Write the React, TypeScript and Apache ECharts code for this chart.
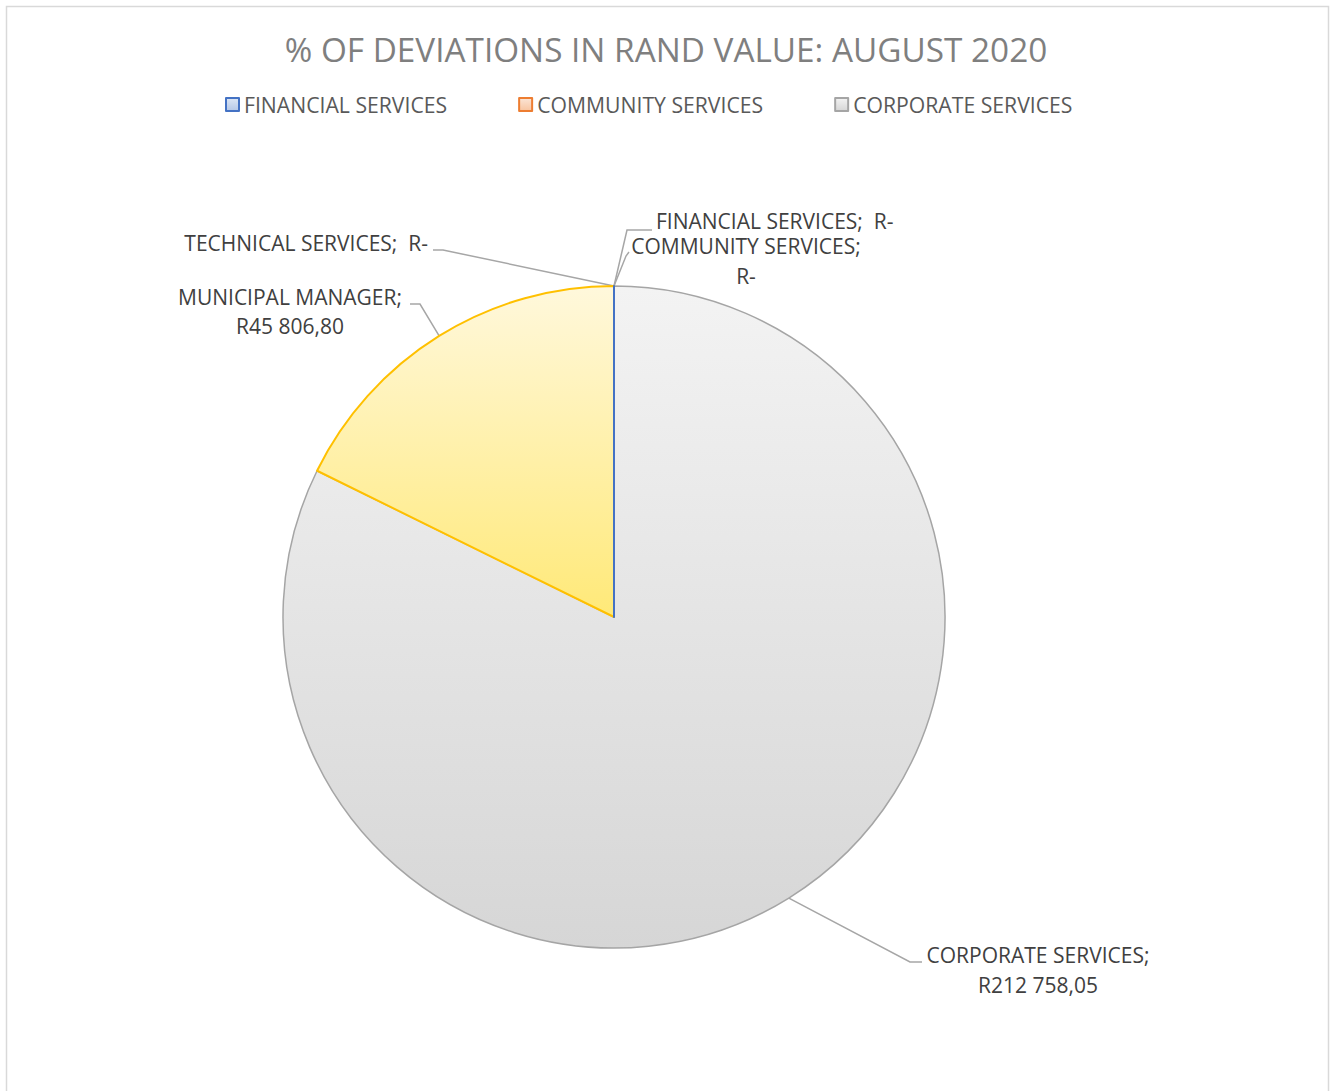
import React, { useEffect, useRef } from "react";
import * as echarts from "echarts";

const titleText = "% OF DEVIATIONS IN RAND VALUE: AUGUST 2020";
const categories = [
  "FINANCIAL SERVICES",
  "COMMUNITY SERVICES",
  "CORPORATE SERVICES",
  "MUNICIPAL MANAGER",
  "TECHNICAL SERVICES",
];
const values = [0, 0, 212758.05, 45806.8, 0];
const legendItems = ["FINANCIAL SERVICES", "COMMUNITY SERVICES", "CORPORATE SERVICES"];

const FONT = "'Open Sans', sans-serif";

function formatRand(v: number): string {
  if (!v) return "R-";
  const [intPart, dec] = v.toFixed(2).split(".");
  const withSpaces = intPart.replace(/\B(?=(\d{3})+(?!\d))/g, " ");
  return "R" + withSpaces + "," + dec;
}

const singleLine = new Set(["FINANCIAL SERVICES", "TECHNICAL SERVICES"]);

const itemStyles: Record<string, any> = {
  "FINANCIAL SERVICES": {
    color: new echarts.graphic.LinearGradient(0, 0, 0, 1, [
      { offset: 0, color: "#dce6f5" },
      { offset: 1, color: "#b4c7e7" },
    ]),
    borderColor: "#4472c4",
    borderWidth: 2,
  },
  "COMMUNITY SERVICES": {
    color: new echarts.graphic.LinearGradient(0, 0, 0, 1, [
      { offset: 0, color: "#fbe5d6" },
      { offset: 1, color: "#f8c4a0" },
    ]),
    borderColor: "#ed7d31",
    borderWidth: 2,
  },
  "CORPORATE SERVICES": {
    color: new echarts.graphic.LinearGradient(0, 0, 0, 1, [
      { offset: 0, color: "#f3f3f3" },
      { offset: 1, color: "#d6d6d6" },
    ]),
    borderColor: "#a5a5a5",
    borderWidth: 1.5,
  },
  "MUNICIPAL MANAGER": {
    color: new echarts.graphic.LinearGradient(0, 0, 0, 1, [
      { offset: 0, color: "#fff8dc" },
      { offset: 1, color: "#ffe978" },
    ]),
    borderColor: "#ffc000",
    borderWidth: 2,
  },
  "TECHNICAL SERVICES": {
    color: "#5b9bd5",
    borderColor: "#4472c4",
    borderWidth: 0,
  },
};

const labelPlaces: Record<string, any> = {
  "FINANCIAL SERVICES": { x: 656, y: 221, align: "left", lineHeight: 18, bend: [627, 230], end: [652, 230] },
  "COMMUNITY SERVICES": { x: 746, y: 261, align: "center", lineHeight: 30, bend: [626, 256], end: [629, 252] },
  "TECHNICAL SERVICES": { x: 428, y: 243, align: "right", lineHeight: 24, bend: [443, 250], end: [433, 250] },
  "MUNICIPAL MANAGER": { x: 290, y: 311, align: "center", lineHeight: 29, bend: [420, 304], end: [410, 304] },
  "CORPORATE SERVICES": { x: 1038, y: 970, align: "center", lineHeight: 30, bend: [910, 962], end: [922, 962] },
};

export default function App() {
  const ref = useRef<HTMLDivElement>(null);
  useEffect(() => {
    if (!ref.current) return;
    const chart = echarts.init(ref.current, undefined, { renderer: "svg" });
    chart.setOption({
      animation: false,
      backgroundColor: "#ffffff",
      graphic: [
        {
          type: "rect",
          shape: { x: 6.5, y: 6.5, width: 1322, height: 1100 },
          style: { fill: "none", stroke: "#d9d9d9", lineWidth: 1.5 },
          silent: true,
        },
      ],
      title: {
        text: titleText,
        left: "center",
        top: 27,
        textStyle: {
          fontFamily: FONT,
          fontSize: 33.3,
          fontWeight: "normal",
          color: "#7f7f7f",
        },
      },
      legend: {
        data: legendItems,
        left: 220,
        top: 89,
        itemWidth: 13,
        itemHeight: 13,
        itemGap: 71,
        icon: "rect",
        selectedMode: false,
        textStyle: { fontFamily: FONT, fontSize: 21.2, color: "#595959" },
      },
      series: [
        {
          type: "pie",
          center: [614, 617],
          radius: 331,
          startAngle: 90,
          clockwise: true,
          avoidLabelOverlap: false,
          emphasis: { disabled: true },
          data: categories.map((name, i) => ({
            name,
            value: values[i],
            itemStyle: itemStyles[name],
            label: { lineHeight: labelPlaces[name].lineHeight },
          })),
          label: {
            show: true,
            fontFamily: FONT,
            fontSize: 21,
            color: "#404040",
            lineHeight: 30,
            formatter: (p: any) =>
              singleLine.has(p.name)
                ? `${p.name};  ${formatRand(p.value)}`
                : `${p.name};\n${formatRand(p.value)}`,
          },
          labelLine: {
            show: true,
            smooth: false,
            length: 20,
            length2: 10,
            lineStyle: { color: "#a6a6a6", width: 1.5 },
          },
          labelLayout: (params: any) => {
            const name = categories[params.dataIndex];
            const pl = labelPlaces[name];
            const anchor =
              params.labelLinePoints && params.labelLinePoints[0]
                ? params.labelLinePoints[0]
                : [614, 286];
            return {
              x: pl.x,
              y: pl.y,
              align: pl.align,
              verticalAlign: "middle",
              labelLinePoints: [anchor, pl.bend, pl.end],
            };
          },
        },
        {
          // outline overlay so the zero-value Financial slice edge shows on top
          type: "pie",
          z: 5,
          silent: true,
          center: [614, 617],
          radius: 331,
          startAngle: 90,
          clockwise: true,
          emphasis: { disabled: true },
          label: { show: false },
          labelLine: { show: false },
          data: categories.map((name, i) => ({
            name: name + " ",
            value: values[i],
            itemStyle:
              i === 0
                ? { color: "rgba(0,0,0,0)", borderColor: "#4472c4", borderWidth: 2 }
                : { color: "rgba(0,0,0,0)", borderWidth: 0 },
          })),
        },
      ],
    });
    return () => chart.dispose();
  }, []);
  return (
    <div
      ref={ref}
      style={{ position: "absolute", left: 0, top: 0, width: 1332, height: 1091 }}
    />
  );
}
